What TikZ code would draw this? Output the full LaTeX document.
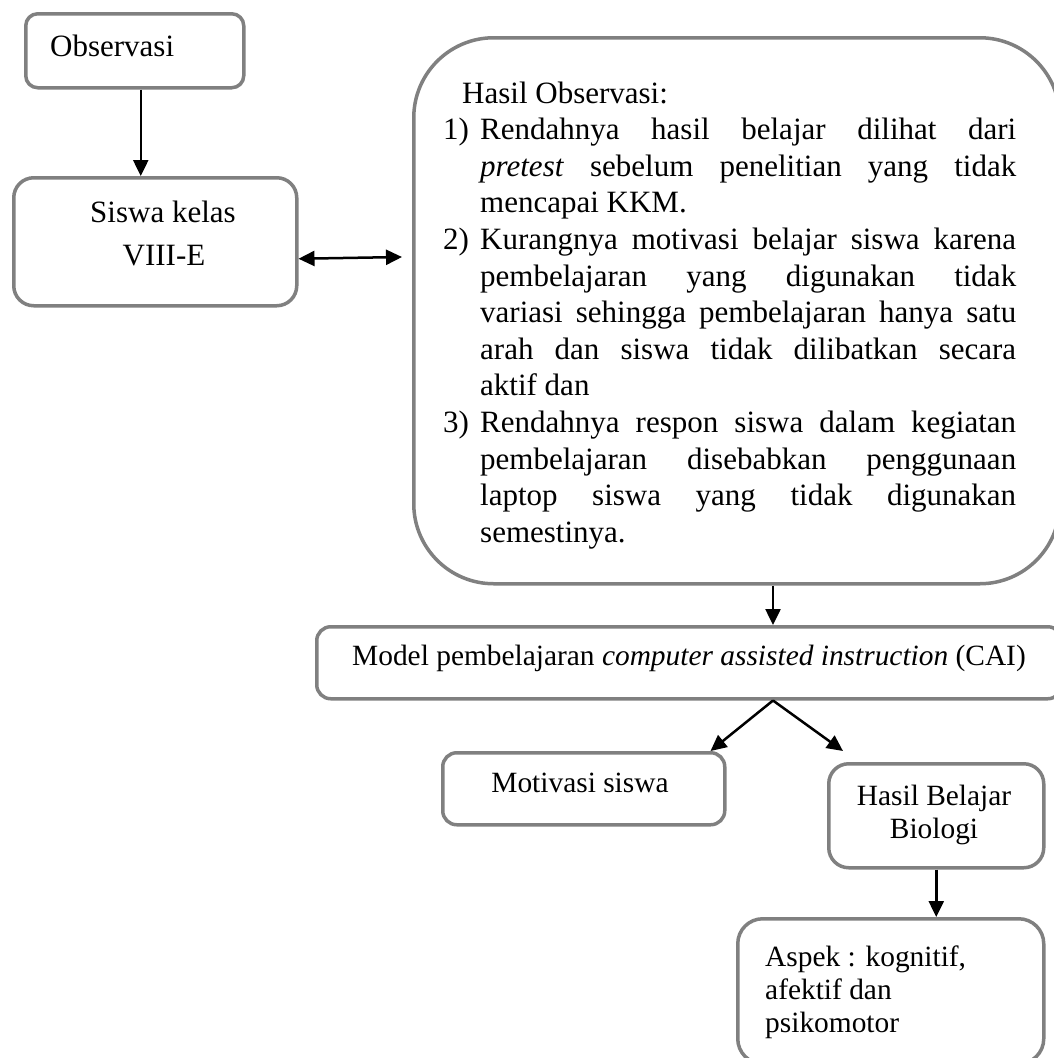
\documentclass[tikz,border=0pt]{standalone}
\usepackage{fontspec}
\setmainfont{Liberation Serif}
\usetikzlibrary{arrows.meta}
\definecolor{boxgray}{RGB}{128,128,128}
\tikzset{
  box/.style={draw=boxgray, line width=3.5pt, fill=white, inner sep=0pt, anchor=north west},
  conn/.style={line width=2.5pt, -{Triangle[length=16pt,width=15pt]}},
  conntwo/.style={line width=2.5pt, {Triangle[length=16pt,width=15pt]}-{Triangle[length=16pt,width=15pt]}},
  txt/.style={inner sep=0pt, font=\fontsize{31}{36.6}\selectfont},
  txts/.style={inner sep=0pt, font=\fontsize{29.4}{35}\selectfont},
}
\newcommand{\jl}[1]{\makebox[536pt][s]{#1}}
\begin{document}
\begin{tikzpicture}[x=1pt,y=-1pt]
\useasboundingbox (0,0) rectangle (1053,1058);
% boxes
\node[box, rounded corners=12pt, minimum width=218pt, minimum height=74pt] (obs) at (24,12) {};
\node[box, rounded corners=20pt, minimum width=283pt, minimum height=128pt] (siswa) at (12,176) {};
\node[box, rounded corners=80pt, minimum width=646pt, minimum height=546pt] (obsres) at (412,36) {};
\node[box, rounded corners=14pt, minimum width=745pt, minimum height=72pt] (cai) at (315,625) {};
\node[box, rounded corners=14pt, minimum width=282pt, minimum height=72pt] (mot) at (441,751) {};
\node[box, rounded corners=20pt, minimum width=215pt, minimum height=104pt] (hb) at (827,762) {};
\node[box, rounded corners=25pt, minimum width=306pt, minimum height=145pt] (asp) at (736,917) {};
% texts
\node[txt, anchor=base west] (tobs) at (50,56) {Observasi};
\node[txt, anchor=base] (tsis1) at (163,222) {Siswa kelas};
\node[txt, anchor=base] (tsis2) at (164,265) {VIII-E};
\node[txt, anchor=base west] (tres) at (443,103) {\begin{minipage}[t]{573pt}\fontsize{31}{36.6}\selectfont
\hspace*{19pt}Hasil Observasi:\\
\makebox[37pt][l]{1)}\jl{Rendahnya hasil belajar dilihat dari}\\
\hspace*{37pt}\jl{\textit{pretest} sebelum penelitian yang tidak}\\
\hspace*{37pt}mencapai KKM.\\
\makebox[37pt][l]{2)}\jl{Kurangnya motivasi belajar siswa karena}\\
\hspace*{37pt}\jl{pembelajaran yang digunakan tidak}\\
\hspace*{37pt}\jl{variasi sehingga pembelajaran hanya satu}\\
\hspace*{37pt}\jl{arah dan siswa tidak dilibatkan secara}\\
\hspace*{37pt}aktif dan\\
\makebox[37pt][l]{3)}\jl{Rendahnya respon siswa dalam kegiatan}\\
\hspace*{37pt}\jl{pembelajaran disebabkan penggunaan}\\
\hspace*{37pt}\jl{laptop siswa yang tidak digunakan}\\
\hspace*{37pt}semestinya.
\end{minipage}};
\node[txts, anchor=base west] (tcai) at (352,665) {Model pembelajaran \textit{computer assisted instruction} (CAI)};
\node[txts, anchor=base] (tmot) at (580,792) {Motivasi siswa};
\node[txts, anchor=base] (thb1) at (934,805) {Hasil Belajar};
\node[txts, anchor=base] (thb2) at (934,838) {Biologi};
\node[txts, anchor=base west] (tasp1) at (765,966) {Aspek : kognitif,};
\node[txts, anchor=base west] (tasp2) at (765,999) {afektif dan};
\node[txts, anchor=base west] (tasp3) at (765,1032) {psikomotor};
% connectors
\coordinate (split) at (773,0);
\coordinate (dblend) at (402,257);
\draw[conn] ([xshift=6pt]obs.south) -- ([xshift=6pt]obs.south |- siswa.north);
\draw[conntwo] ([yshift=-17pt]siswa.east) -- (dblend);
\draw[conn] (obsres.south -| split) -- (cai.north -| split);
\draw[conn] (cai.south -| split) -- ([xshift=-16pt]mot.north east);
\draw[conn] (cai.south -| split) -- ([xshift=16pt,yshift=11pt]hb.north west);
\draw[conn] (hb.south) -- (hb.south |- asp.north);
\end{tikzpicture}
\end{document}
